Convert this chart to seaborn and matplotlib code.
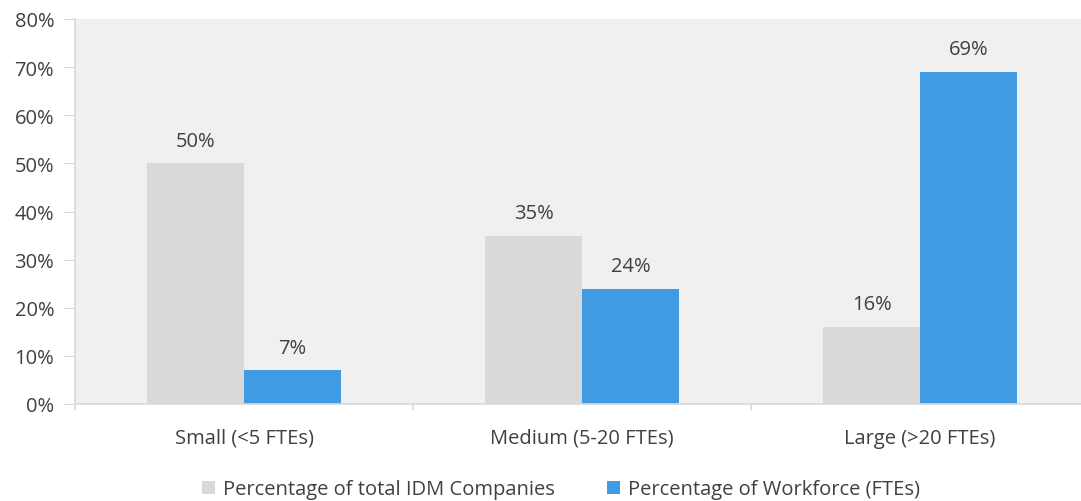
import pandas as pd
import matplotlib.pyplot as plt
import seaborn as sns
from matplotlib.ticker import PercentFormatter

categories = ['Small (<5 FTEs)', 'Medium (5-20 FTEs)', 'Large (>20 FTEs)']
companies = [50, 35, 16]
workforce = [7, 24, 69]
series_names = ['Percentage of total IDM Companies', 'Percentage of Workforce (FTEs)']

df = pd.DataFrame({
    'size': categories * 2,
    'value': companies + workforce,
    'series': [series_names[0]] * 3 + [series_names[1]] * 3,
})

sns.set_style('white')
plt.rcParams['font.family'] = ['Open Sans', 'DejaVu Sans']
text_col = '#404040'
fs = 14.5

fig = plt.figure(figsize=(10.81, 5.02), dpi=100)
ax = fig.add_axes([75 / 1081, 1 - 405 / 502, 1 - 75 / 1081, 385 / 502])
ax.set_facecolor('#f0f0f0')

g = sns.barplot(data=df, x='size', y='value', hue='series',
                palette=['#d9d9d9', '#409be2'], width=0.574, ax=ax,
                saturation=1, edgecolor='none')

for c in g.containers:
    g.bar_label(c, labels=[f'{v:.0f}%' for v in c.datavalues], padding=9,
                fontsize=fs, color=text_col)

ax.set_ylim(0, 80)
ax.set_xlim(-0.5, 2.476)
ax.set_yticks(range(0, 81, 10))
ax.yaxis.set_major_formatter(PercentFormatter(decimals=0))
for s in ['top', 'right']:
    ax.spines[s].set_visible(False)
for s in ['left', 'bottom']:
    ax.spines[s].set_color('#d9d9d9')
    ax.spines[s].set_linewidth(1.2)

ax.tick_params(axis='y', length=8, color='#d9d9d9', labelsize=fs,
               labelcolor=text_col, pad=7, left=True)
ax.tick_params(axis='x', length=0, labelsize=fs, labelcolor=text_col, pad=17)
# category separators under the axis
for xb in [-0.5, 0.5, 1.5]:
    ax.plot([xb, xb], [0, -1.3], color='#d9d9d9', lw=1.2, clip_on=False)

ax.set_xlabel('')
ax.set_ylabel('')
ax.legend(loc='center', bbox_to_anchor=(0.483, -0.222), ncol=2, frameon=False,
          fontsize=fs, handlelength=0.65, handleheight=0.65, handletextpad=0.4,
          columnspacing=2.6, labelcolor=text_col)

fig.savefig('out.png', dpi=100)
